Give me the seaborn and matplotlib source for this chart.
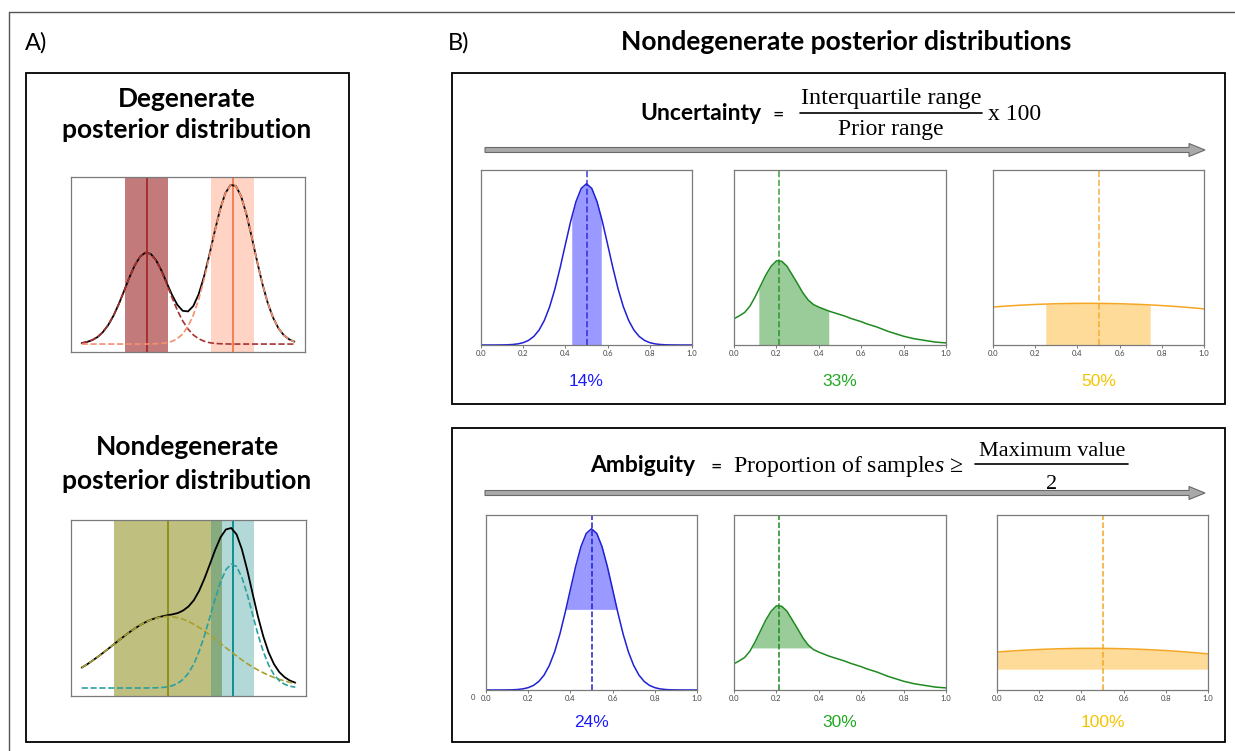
import numpy as np
import matplotlib
matplotlib.use("Agg")
import matplotlib.pyplot as plt
import seaborn as sns
from matplotlib.patches import Rectangle, FancyArrow
from matplotlib.lines import Line2D

# ---------------- data ----------------
x_grid = [0.000, 0.025, 0.050, 0.075, 0.100, 0.125, 0.150, 0.175, 0.200, 0.225,
          0.250, 0.275, 0.300, 0.325, 0.350, 0.375, 0.400, 0.425, 0.450, 0.475,
          0.500, 0.525, 0.550, 0.575, 0.600, 0.625, 0.650, 0.675, 0.700, 0.725,
          0.750, 0.775, 0.800, 0.825, 0.850, 0.875, 0.900, 0.925, 0.950, 0.975,
          1.000]

# Panel B posterior densities (same three posteriors in both rows)
dens_blue = [0.000, 0.000, 0.000, 0.001, 0.002, 0.005, 0.012, 0.027, 0.056, 0.110,
             0.204, 0.356, 0.588, 0.913, 1.339, 1.854, 2.415, 2.968, 3.440, 3.758,
             3.870, 3.758, 3.440, 2.968, 2.415, 1.854, 1.339, 0.913, 0.588, 0.356,
             0.204, 0.110, 0.056, 0.027, 0.012, 0.005, 0.002, 0.001, 0.000, 0.000,
             0.000]
dens_green = [0.63, 0.70, 0.78, 0.93, 1.16, 1.42, 1.68, 1.89, 2.02, 2.01,
              1.89, 1.68, 1.47, 1.25, 1.08, 0.97, 0.91, 0.86, 0.81, 0.77,
              0.73, 0.69, 0.64, 0.60, 0.56, 0.51, 0.47, 0.43, 0.38, 0.33,
              0.29, 0.25, 0.21, 0.18, 0.15, 0.13, 0.11, 0.09, 0.07, 0.06,
              0.05]
dens_orange = [0.911, 0.921, 0.930, 0.938, 0.946, 0.954, 0.960, 0.967, 0.973, 0.978,
               0.982, 0.987, 0.990, 0.993, 0.996, 0.998, 0.999, 1.000, 1.000, 1.000,
               0.999, 0.998, 0.996, 0.993, 0.990, 0.987, 0.982, 0.978, 0.973, 0.967,
               0.960, 0.954, 0.946, 0.938, 0.930, 0.921, 0.911, 0.901, 0.890, 0.879,
               0.867]
mode_marks = [0.50, 0.21, 0.50]
iqr_low = [0.43, 0.117, 0.25]
iqr_high = [0.57, 0.447, 0.745]
uncertainty_labels = ["14%", "33%", "50%"]
ambiguity_labels = ["24%", "30%", "100%"]
tick_vals = [0.0, 0.2, 0.4, 0.6, 0.8, 1.0]
tick_labels = ["0.0", "0.2", "0.4", "0.6", "0.8", "1.0"]

# Panel A components
degen_comp1 = [0.006, 0.013, 0.025, 0.044, 0.075, 0.119, 0.178, 0.251, 0.334, 0.418,
               0.493, 0.547, 0.572, 0.563, 0.522, 0.456, 0.375, 0.290, 0.211, 0.145,
               0.094, 0.057, 0.033, 0.018, 0.009, 0.004, 0.002, 0.001, 0.000, 0.000,
               0.000, 0.000, 0.000, 0.000, 0.000, 0.000, 0.000, 0.000, 0.000, 0.000,
               0.000]
degen_comp2 = [0.000, 0.000, 0.000, 0.000, 0.000, 0.000, 0.000, 0.000, 0.000, 0.000,
               0.000, 0.000, 0.000, 0.001, 0.002, 0.004, 0.008, 0.017, 0.034, 0.063,
               0.110, 0.181, 0.278, 0.402, 0.546, 0.697, 0.835, 0.941, 0.995, 0.989,
               0.923, 0.810, 0.667, 0.516, 0.375, 0.256, 0.165, 0.099, 0.056, 0.030,
               0.015]
degen_centers = [0.306, 0.710]
degen_band_low = [0.204, 0.608]
degen_band_high = [0.408, 0.812]

nondeg_comp1 = [0.127, 0.147, 0.170, 0.194, 0.219, 0.245, 0.272, 0.298, 0.324, 0.349,
                0.372, 0.393, 0.411, 0.425, 0.436, 0.443, 0.446, 0.444, 0.438, 0.429,
                0.415, 0.397, 0.377, 0.355, 0.330, 0.304, 0.278, 0.251, 0.225, 0.200,
                0.175, 0.152, 0.131, 0.112, 0.095, 0.079, 0.066, 0.054, 0.044, 0.035,
                0.028]
nondeg_comp2 = [0.000, 0.000, 0.000, 0.000, 0.000, 0.000, 0.000, 0.000, 0.000, 0.000,
                0.000, 0.000, 0.000, 0.001, 0.001, 0.003, 0.007, 0.015, 0.029, 0.054,
                0.093, 0.150, 0.229, 0.328, 0.441, 0.557, 0.661, 0.737, 0.772, 0.757,
                0.689, 0.583, 0.458, 0.334, 0.227, 0.143, 0.083, 0.045, 0.023, 0.011,
                0.005]
nondeg_centers = [0.403, 0.706]
nondeg_band_low = [0.151, 0.606]
nondeg_band_high = [0.657, 0.808]

# ---------------- style ----------------
sns.set_theme(style="white")
plt.rcParams['font.family'] = ['Lato', 'DejaVu Sans']
plt.rcParams['text.color'] = 'black'
plt.rcParams['mathtext.fontset'] = 'custom'
plt.rcParams['mathtext.rm'] = 'Liberation Serif'
plt.rcParams['mathtext.it'] = 'Liberation Serif:italic'

W, H = 1235, 751
fig = plt.figure(figsize=(W / 100, H / 100), dpi=100)
fig.patch.set_facecolor('white')

ax_bg = fig.add_axes([0, 0, 1, 1], zorder=0)
ax_bg.set_xlim(0, W)
ax_bg.set_ylim(H, 0)
ax_bg.axis('off')


def px_axes(l, t, r, b):
    ax = fig.add_axes([l / W, 1 - b / H, (r - l) / W, (b - t) / H], zorder=2)
    ax.set_facecolor('white')
    for s in ax.spines.values():
        s.set_color('#7a7a7a')
        s.set_linewidth(0.9)
        s.set_visible(True)
    return ax


# outer frame and boxes
ax_bg.add_line(Line2D([9, W], [12, 12], color='#555555', lw=1.0))
ax_bg.add_line(Line2D([9, 9], [12, H], color='#555555', lw=1.0))
for (x0, y0, x1, y1) in [(26, 73, 349, 742), (452, 73, 1225, 404), (452, 428, 1225, 742)]:
    ax_bg.add_patch(Rectangle((x0, y0), x1 - x0, y1 - y0, fill=False, ec='black', lw=1.3))

# headings
ax_bg.text(25, 50, "A)", fontsize=17, ha='left', va='baseline')
ax_bg.text(448, 50, "B)", fontsize=17, ha='left', va='baseline')
ax_bg.text(846, 50, "Nondegenerate posterior distributions", fontsize=19,
           fontweight='bold', ha='center', va='baseline')
ax_bg.text(187, 107, "Degenerate", fontsize=19, fontweight='bold', ha='center', va='baseline')
ax_bg.text(187, 138, "posterior distribution", fontsize=19, fontweight='bold',
           ha='center', va='baseline')
ax_bg.text(187, 455, "Nondegenerate", fontsize=19, fontweight='bold', ha='center', va='baseline')
ax_bg.text(187, 489, "posterior distribution", fontsize=19, fontweight='bold',
           ha='center', va='baseline')

serif = 'Liberation Serif'
# Uncertainty formula
ax_bg.text(701, 120, "Uncertainty", fontsize=16.5, fontweight='bold', ha='center', va='baseline')
ax_bg.text(778, 121, "=", fontsize=14, ha='center', va='baseline')
ax_bg.text(891, 104, "Interquartile range", fontsize=17.5, family=serif, ha='center', va='baseline')
ax_bg.add_line(Line2D([800, 982], [113, 113], color='black', lw=1.2))
ax_bg.text(891, 135, "Prior range", fontsize=17, family=serif, ha='center', va='baseline')
ax_bg.text(988, 120, "x 100", fontsize=17, family=serif, ha='left', va='baseline')

# Ambiguity formula
ax_bg.text(643, 472, "Ambiguity", fontsize=16.5, fontweight='bold', ha='center', va='baseline')
ax_bg.text(716, 473, "=", fontsize=14, ha='center', va='baseline')
ax_bg.text(733, 472, "Proportion of sample$s$ \u2265", fontsize=17.2, family=serif,
           ha='left', va='baseline')
ax_bg.text(1052, 456, "Maximum value", fontsize=16, family=serif, ha='center', va='baseline')
ax_bg.add_line(Line2D([975, 1128], [464, 464], color='black', lw=1.2))
ax_bg.text(1052, 489, "2", fontsize=16, family=serif, ha='center', va='baseline')

# arrows
for yy in [150, 493]:
    ax_bg.add_patch(FancyArrow(485, yy, 720, 0, width=5, head_width=13, head_length=16,
                               length_includes_head=True, fc='#a9a9a9', ec='#6a6a6a', lw=0.8))

ax_bg.text(473, 697, "0", fontsize=5.5, color='#444444', ha='center', va='center')

# ---------------- Panel A plots ----------------
def panel_a(ax, c1, c2, centers, lows, highs, band_cols, band_alpha, vcols, dcols):
    xa = np.array(x_grid)
    y1 = np.array(c1)
    y2 = np.array(c2)
    for lo, hi, bc, ba in zip(lows, highs, band_cols, band_alpha):
        ax.axvspan(lo, hi, color=bc, alpha=ba, lw=0, zorder=1)
    for cx, vc in zip(centers, vcols):
        ax.axvline(cx, color=vc, lw=1.3, zorder=2)
    sns.lineplot(x=xa, y=y1 + y2, ax=ax, color='black', lw=1.3, zorder=3)
    sns.lineplot(x=xa, y=y1, ax=ax, color=dcols[0], lw=1.2, ls='--', zorder=4)
    sns.lineplot(x=xa, y=y2, ax=ax, color=dcols[1], lw=1.2, ls='--', zorder=4)
    ax.set_xticks([])
    ax.set_yticks([])
    ax.set_xlabel("")
    ax.set_ylabel("")


ax_a1 = px_axes(71, 177, 305, 352)
panel_a(ax_a1, degen_comp1, degen_comp2, degen_centers, degen_band_low, degen_band_high,
        ['#8b0000', '#ff7f50'], [0.52, 0.33], ['#a52a2a', '#f2774c'], ['#a83232', '#f29070'])

ax_a2 = px_axes(71, 520, 306, 696)
panel_a(ax_a2, nondeg_comp1, nondeg_comp2, nondeg_centers, nondeg_band_low, nondeg_band_high,
        ['#808000', '#008080'], [0.5, 0.3], ['#8c8c14', '#008b8b'], ['#a8a030', '#2aa0a0'])

# ---------------- Panel B plots ----------------
dens_all = [dens_blue, dens_green, dens_orange]
line_cols = ['#1f1fd6', '#1f8a1f', '#f5a623']
fill_cols = ['blue', 'green', 'orange']
text_cols = ['#1a1aff', '#22a822', '#f5c400']
top_pos = [(481, 170, 692, 345), (734, 170, 946, 345), (993, 170, 1204, 345)]
bot_pos = [(486, 515, 697, 690), (734, 515, 946, 690), (997, 515, 1208, 690)]


def style_b(ax):
    ax.set_xlim(0, 1)
    ax.set_ylim(0, 4.2)
    ax.set_yticks([])
    ax.set_xticks(tick_vals)
    ax.set_xticklabels(tick_labels)
    ax.tick_params(axis='x', bottom=True, labelsize=5.5, length=2, width=0.5, pad=1.5,
                   colors='#444444')
    ax.set_xlabel("")
    ax.set_ylabel("")


xa = np.array(x_grid)
for i in range(3):
    ya = np.array(dens_all[i])
    # uncertainty row
    ax = px_axes(*top_pos[i])
    lo, hi = iqr_low[i], iqr_high[i]
    inside = (xa > lo) & (xa < hi)
    xs = np.concatenate([[lo], xa[inside], [hi]])
    ax.fill_between(xs, 0, np.interp(xs, xa, ya), color=fill_cols[i], alpha=0.4, lw=0)
    sns.lineplot(x=xa, y=ya, ax=ax, color=line_cols[i], lw=1.1)
    ax.axvline(mode_marks[i], color=line_cols[i], ls='--', lw=1.2, alpha=0.8)
    style_b(ax)
    ax.text(0.5, -0.21, uncertainty_labels[i], transform=ax.transAxes, ha='center',
            va='center', fontsize=12.5, family='Liberation Sans', color=text_cols[i])

    # ambiguity row
    ax = px_axes(*bot_pos[i])
    thr = ya.max() / 2
    ax.fill_between(xa, thr, ya, where=ya >= thr, interpolate=True,
                    color=fill_cols[i], alpha=0.4, lw=0)
    sns.lineplot(x=xa, y=ya, ax=ax, color=line_cols[i], lw=1.1)
    ax.axvline(mode_marks[i], color=line_cols[i], ls='--', lw=1.1)
    style_b(ax)
    ax.text(0.5, -0.183, ambiguity_labels[i], transform=ax.transAxes, ha='center',
            va='center', fontsize=12.5, family='Liberation Sans', color=text_cols[i])

fig.savefig("out.png", dpi=100, facecolor='white')
